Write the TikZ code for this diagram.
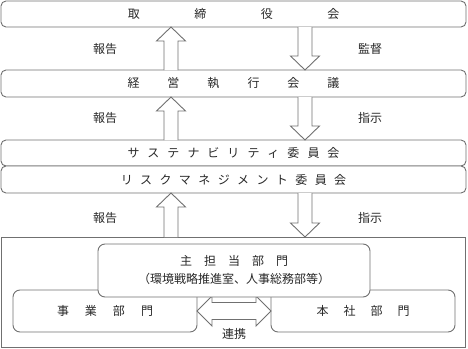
\documentclass[tikz,border=0pt]{standalone}
\usepackage{fontspec}
\setmainfont{Noto Sans CJK JP}
\usepackage{tikz}
\usetikzlibrary{positioning,calc}
\definecolor{linecol}{RGB}{112,112,112}
\definecolor{txtcol}{RGB}{40,40,40}

% characters set apart by a fixed gap
\newcommand{\spread}[2]{\foreach \kana [count=\i] in {#2}{\ifnum\i>1\hspace{#1}\fi\kana}}
% hollow block arrow from tail (#1) to tip (#2)
\newcommand{\hollowarrow}[2]{%
  \coordinate (tl) at (#1);
  \coordinate (tp) at (#2);
  \coordinate (hb) at ($(tp)!14pt!(tl)$);
  \draw[blk] ($(tl)!7pt!90:(tp)$) -- ($(hb)!7pt!90:(tp)$)
    -- ($(hb)!14.5pt!90:(tp)$) -- (tp) -- ($(hb)!14.5pt!-90:(tp)$)
    -- ($(hb)!7pt!-90:(tp)$) -- ($(tl)!7pt!-90:(tp)$);
}

\begin{document}
\begin{tikzpicture}[
  x=1pt, y=1pt,
  box/.style={rectangle, rounded corners=5pt, draw=linecol, line width=0.9pt,
              fill=white, minimum width=465pt, inner sep=0pt, outer sep=0pt,
              font=\fontsize{12}{14}\selectfont, text=txtcol},
  unitbox/.style={box, rounded corners=7pt, minimum width=184pt,
                  minimum height=42pt},
  frame/.style={rectangle, draw=linecol, line width=0.9pt, inner sep=0pt,
                outer sep=0pt, minimum width=464pt, minimum height=110pt},
  lbl/.style={font=\fontsize{12}{14}\selectfont, text=txtcol},
  blk/.style={draw=linecol, line width=0.9pt, fill=white, line join=miter}
]
\useasboundingbox (0,0) rectangle (468,-348);

%% Top levels
\node[box, minimum height=26pt] (board) at (233.5,-14)
  {\spread{54.5pt}{取,締,役,会}};
\node[box, minimum height=27pt, below=43pt of board] (mtg)
  {\spread{28pt}{経,営,執,行,会,議}};
\node[box, minimum height=26pt, below=43pt of mtg] (sus)
  {\spread{8pt}{サ,ス,テ,ナ,ビ,リ,テ,ィ,委,員,会}};
\node[box, minimum height=27pt, below=0pt of sus] (risk)
  {\spread{7.4pt}{リ,ス,ク,マ,ネ,ジ,メ,ン,ト,委,員,会}};

%% Departments
\node[frame, below=44pt of risk] (org) {};
\node[unitbox] (biz) at (105,-311) {\spread{16pt}{事,業,部,門}};
\node[unitbox] (hq)  at (363,-311) {\spread{15pt}{本,社,部,門}};

%% Link arrow between departments
\coordinate (lb) at ($(biz.east)+(15,0)$);
\coordinate (rb) at ($(hq.west)+(-15,0)$);
\draw[blk] (biz.east) -- ($(lb)+(0,15)$) -- ($(lb)+(0,8.5)$) -- ($(rb)+(0,8.5)$)
  -- ($(rb)+(0,15)$) -- (hq.west) -- ($(rb)+(0,-15)$) -- ($(rb)+(0,-8.5)$)
  -- ($(lb)+(0,-8.5)$) -- ($(lb)+(0,-15)$) -- cycle;

\node[box, rounded corners=7pt, minimum width=272pt, minimum height=53pt,
      align=center, font=\fontsize{12}{18}\selectfont] (main) at (234,-270.5)
  {\spread{12pt}{主,担,当,部,門}\\（環境戦略推進室、人事総務部等）};

%% Arrows between levels
\coordinate (upcol) at (171,0);
\coordinate (dncol) at (305,0);
\hollowarrow{upcol |- mtg.north}{upcol |- board.south}
\hollowarrow{dncol |- board.south}{dncol |- mtg.north}
\hollowarrow{upcol |- sus.north}{upcol |- mtg.south}
\hollowarrow{dncol |- mtg.south}{dncol |- sus.north}
\hollowarrow{upcol |- org.north}{upcol |- risk.south}
\hollowarrow{dncol |- risk.south}{dncol |- org.north}

%% Labels
\node[lbl] (rep1) at (105,-49)  {報告};
\node[lbl] (sup1) at (370,-49)  {監督};
\node[lbl] (rep2) at (105,-118) {報告};
\node[lbl] (ins2) at (370,-118) {指示};
\node[lbl] (rep3) at (105,-218) {報告};
\node[lbl] (ins3) at (370,-218) {指示};
\node[lbl] (link) at (234,-334) {連携};

\end{tikzpicture}
\end{document}
